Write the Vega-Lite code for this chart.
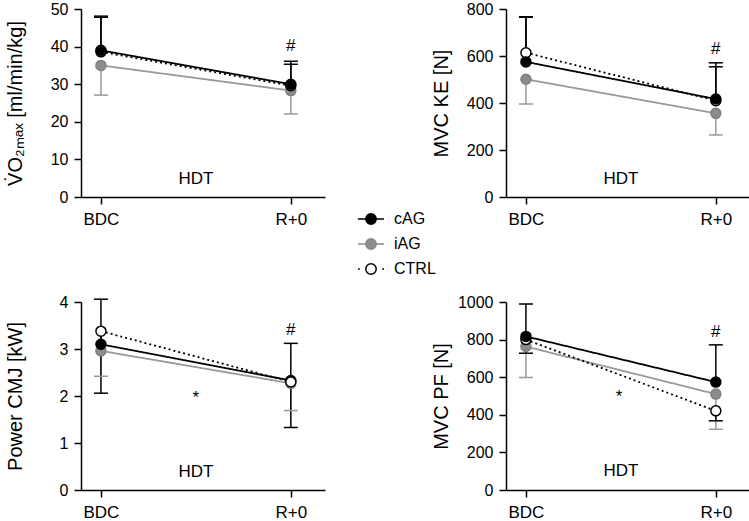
{
  "$schema": "https://vega.github.io/schema/vega-lite/v6.json",
  "padding": {"left": 4, "top": 1, "right": 0, "bottom": 0},
  "bounds": "flush",
  "columns": 2,
  "spacing": {"row": 105, "column": 181},
  "config": {
    "font": "Liberation Sans",
    "view": {"stroke": null},
    "axis": {"grid": false, "domainColor": "#000000", "tickColor": "#000000", "labelColor": "#000000", "titleColor": "#000000", "labelFontSize": 16, "titleFontSize": 20, "titleFontWeight": "normal", "domainWidth": 1.5, "tickWidth": 1.5, "tickSize": 7},
    "axisX": {"labelFontSize": 17},
    "legend": {"labelColor": "#000000"}
  },
  "resolve": {"scale": {"color": "independent", "fill": "independent", "stroke": "independent", "strokeDash": "independent"}, "legend": {"color": "independent", "fill": "independent", "stroke": "independent", "strokeDash": "independent"}},
  "datasets": {
    "pts": [
      {"panel": "VO2", "group": "iAG", "t": 0, "value": 35.0, "err": 27.1},
      {"panel": "VO2", "group": "iAG", "t": 1, "value": 28.3, "err": 22.1},
      {"panel": "VO2", "group": "CTRL", "t": 0, "value": 38.6, "err": 47.8},
      {"panel": "VO2", "group": "CTRL", "t": 1, "value": 29.6, "err": 35.3},
      {"panel": "VO2", "group": "cAG", "t": 0, "value": 39.0, "err": 48.1},
      {"panel": "VO2", "group": "cAG", "t": 1, "value": 30.0, "err": 36.1},
      {"panel": "KE", "group": "iAG", "t": 0, "value": 501, "err": 396},
      {"panel": "KE", "group": "iAG", "t": 1, "value": 356, "err": 264},
      {"panel": "KE", "group": "CTRL", "t": 0, "value": 614, "err": 765},
      {"panel": "KE", "group": "CTRL", "t": 1, "value": 410, "err": 554},
      {"panel": "KE", "group": "cAG", "t": 0, "value": 575, "err": 767},
      {"panel": "KE", "group": "cAG", "t": 1, "value": 417, "err": 571},
      {"panel": "CMJ", "group": "iAG", "t": 0, "value": 2.96, "err": 2.42},
      {"panel": "CMJ", "group": "iAG", "t": 1, "value": 2.27, "err": 1.69},
      {"panel": "CMJ", "group": "cAG", "t": 0, "value": 3.10, "err": 4.06},
      {"panel": "CMJ", "group": "cAG", "t": 1, "value": 2.33, "err": 3.12},
      {"panel": "CMJ", "group": "CTRL", "t": 0, "value": 3.38, "err": 2.06},
      {"panel": "CMJ", "group": "CTRL", "t": 1, "value": 2.30, "err": 1.33},
      {"panel": "PF", "group": "iAG", "t": 0, "value": 763, "err": 598},
      {"panel": "PF", "group": "iAG", "t": 1, "value": 510, "err": 323},
      {"panel": "PF", "group": "CTRL", "t": 0, "value": 800, "err": 728},
      {"panel": "PF", "group": "CTRL", "t": 1, "value": 421, "err": 368},
      {"panel": "PF", "group": "cAG", "t": 0, "value": 817, "err": 989},
      {"panel": "PF", "group": "cAG", "t": 1, "value": 574, "err": 772}
    ],
    "notes": [
      {"panel": "VO2", "t": 0.5, "value": 4.9, "label": "HDT"},
      {"panel": "VO2", "t": 1, "value": 40.2, "label": "#"},
      {"panel": "KE", "t": 0.5, "value": 77, "label": "HDT"},
      {"panel": "KE", "t": 1, "value": 630, "label": "#"},
      {"panel": "CMJ", "t": 0.5, "value": 0.39, "label": "HDT"},
      {"panel": "CMJ", "t": 1, "value": 3.40, "label": "#"},
      {"panel": "CMJ", "t": 0.5, "value": 1.96, "label": "*"},
      {"panel": "PF", "t": 0.5, "value": 102, "label": "HDT"},
      {"panel": "PF", "t": 1, "value": 842, "label": "#"},
      {"panel": "PF", "t": 0.49, "value": 495, "label": "*"}
    ]
  },
  "concat": [
    {
      "width": 244, "height": 188,
      "encoding": {
        "x": {"field": "t", "type": "quantitative", "scale": {"domain": [-0.105, 1.18], "nice": false, "zero": false}, "axis": {"values": [0, 1], "labelExpr": "datum.value === 0 ? 'BDC' : 'R+0'", "title": null, "labelPadding": 7, "labelOverlap": false, "labelFlush": false}},
        "y": {"field": "value", "type": "quantitative", "scale": {"domain": [0, 50], "nice": false, "zero": true}, "axis": {"values": [0, 10, 20, 30, 40, 50], "title": "V̇O₂ₘₐₓ [ml/min/kg]", "titleX": -56, "titleY": 94, "labelPadding": 6}}
      },
      "layer": [
        {"data": {"name": "pts"}, "transform": [{"filter": "datum.panel === 'VO2'"}], "mark": {"type": "line", "strokeWidth": 1.8},
         "encoding": {"color": {"field": "group", "type": "nominal", "scale": {"domain": ["iAG", "cAG", "CTRL"], "range": ["#999999", "#000000", "#000000"]}, "legend": null},
                      "strokeDash": {"field": "group", "type": "nominal", "scale": {"domain": ["CTRL", "cAG", "iAG"], "range": [[2, 3], [1, 0], [1, 0]]}, "legend": null}}},
        {"data": {"name": "pts"}, "transform": [{"filter": "datum.panel === 'VO2'"}], "mark": {"type": "rule", "strokeWidth": 1.5},
         "encoding": {"y2": {"field": "err"}, "color": {"field": "group", "type": "nominal", "legend": null}}},
        {"data": {"name": "pts"}, "transform": [{"filter": "datum.panel === 'VO2'"}], "mark": {"type": "tick", "orient": "horizontal", "size": 14, "thickness": 1.5, "opacity": 1},
         "encoding": {"y": {"field": "err", "type": "quantitative", "scale": {"domain": [0, 50], "nice": false}}, "color": {"field": "group", "type": "nominal", "legend": null}}},
        {"data": {"name": "pts"}, "transform": [{"filter": "datum.panel === 'VO2'"}], "mark": {"type": "point", "shape": "circle", "filled": true, "size": 100, "strokeWidth": 1.5, "opacity": 1},
         "encoding": {
           "fill": {"field": "group", "type": "nominal", "scale": {"domain": ["cAG", "iAG", "CTRL"], "range": ["#000000", "#8c8c8c", "#ffffff"]},
                    "legend": {"orient": "none", "legendX": 276, "legendY": 196, "title": null, "symbolSize": 676, "labelFontSize": 16, "labelOffset": 9, "rowPadding": 2, "padding": 0, "symbolStrokeWidth": 1.5, "symbolOpacity": 1,
                               "encoding": {"symbols": {
                                 "shape": {"condition": {"test": "datum.value === 'CTRL'", "value": "M-1,0H-0.86M0.86,0H1M0.4,0A0.4,0.4,0,1,1,-0.4,0A0.4,0.4,0,1,1,0.4,0Z"}, "value": "M-1,0H-0.4M0.4,0H1M0.4,0A0.4,0.4,0,1,1,-0.4,0A0.4,0.4,0,1,1,0.4,0Z"},
                                 "stroke": {"condition": {"test": "datum.value === 'iAG'", "value": "#888888"}, "value": "#000000"},
                                 "strokeWidth": {"value": 1.5}
                               }}}},
           "stroke": {"field": "group", "type": "nominal", "scale": {"domain": ["cAG", "CTRL", "iAG"], "range": ["#000000", "#000000", "#808080"]}, "legend": null}
         }},
        {"data": {"name": "notes"}, "transform": [{"filter": "datum.panel === 'VO2'"}], "mark": {"type": "text", "fontSize": 17, "color": "#000000"},
         "encoding": {"text": {"field": "label"}}}
      ]
    },
    {
      "width": 244, "height": 188,
      "encoding": {
        "x": {"field": "t", "type": "quantitative", "scale": {"domain": [-0.105, 1.18], "nice": false, "zero": false}, "axis": {"values": [0, 1], "labelExpr": "datum.value === 0 ? 'BDC' : 'R+0'", "title": null, "labelPadding": 7, "labelOverlap": false, "labelFlush": false}},
        "y": {"field": "value", "type": "quantitative", "scale": {"domain": [0, 800], "nice": false, "zero": true}, "axis": {"values": [0, 200, 400, 600, 800], "title": "MVC KE [N]", "titleX": -55, "titleY": 94, "labelPadding": 6}}
      },
      "layer": [
        {"data": {"name": "pts"}, "transform": [{"filter": "datum.panel === 'KE'"}], "mark": {"type": "line", "strokeWidth": 1.8},
         "encoding": {"color": {"field": "group", "type": "nominal", "scale": {"domain": ["iAG", "cAG", "CTRL"], "range": ["#999999", "#000000", "#000000"]}, "legend": null},
                      "strokeDash": {"field": "group", "type": "nominal", "scale": {"domain": ["CTRL", "cAG", "iAG"], "range": [[2, 3], [1, 0], [1, 0]]}, "legend": null}}},
        {"data": {"name": "pts"}, "transform": [{"filter": "datum.panel === 'KE'"}], "mark": {"type": "rule", "strokeWidth": 1.5},
         "encoding": {"y2": {"field": "err"}, "color": {"field": "group", "type": "nominal", "legend": null}}},
        {"data": {"name": "pts"}, "transform": [{"filter": "datum.panel === 'KE'"}], "mark": {"type": "tick", "orient": "horizontal", "size": 14, "thickness": 1.5, "opacity": 1},
         "encoding": {"y": {"field": "err", "type": "quantitative", "scale": {"domain": [0, 800], "nice": false}}, "color": {"field": "group", "type": "nominal", "legend": null}}},
        {"data": {"name": "pts"}, "transform": [{"filter": "datum.panel === 'KE'"}], "mark": {"type": "point", "shape": "circle", "filled": true, "size": 100, "strokeWidth": 1.5, "opacity": 1},
         "encoding": {
           "fill": {"field": "group", "type": "nominal", "scale": {"domain": ["cAG", "iAG", "CTRL"], "range": ["#000000", "#8c8c8c", "#ffffff"]}, "legend": null},
           "stroke": {"field": "group", "type": "nominal", "scale": {"domain": ["cAG", "CTRL", "iAG"], "range": ["#000000", "#000000", "#808080"]}, "legend": null}
         }},
        {"data": {"name": "notes"}, "transform": [{"filter": "datum.panel === 'KE'"}], "mark": {"type": "text", "fontSize": 17, "color": "#000000"},
         "encoding": {"text": {"field": "label"}}}
      ]
    },
    {
      "width": 244, "height": 188,
      "encoding": {
        "x": {"field": "t", "type": "quantitative", "scale": {"domain": [-0.105, 1.18], "nice": false, "zero": false}, "axis": {"values": [0, 1], "labelExpr": "datum.value === 0 ? 'BDC' : 'R+0'", "title": null, "labelPadding": 7, "labelOverlap": false, "labelFlush": false}},
        "y": {"field": "value", "type": "quantitative", "scale": {"domain": [0, 4], "nice": false, "zero": true}, "axis": {"values": [0, 1, 2, 3, 4], "title": "Power CMJ [kW]", "titleX": -56, "titleY": 94, "labelPadding": 6}}
      },
      "layer": [
        {"data": {"name": "pts"}, "transform": [{"filter": "datum.panel === 'CMJ'"}], "mark": {"type": "line", "strokeWidth": 1.8},
         "encoding": {"color": {"field": "group", "type": "nominal", "scale": {"domain": ["iAG", "cAG", "CTRL"], "range": ["#999999", "#000000", "#000000"]}, "legend": null},
                      "strokeDash": {"field": "group", "type": "nominal", "scale": {"domain": ["CTRL", "cAG", "iAG"], "range": [[2, 3], [1, 0], [1, 0]]}, "legend": null}}},
        {"data": {"name": "pts"}, "transform": [{"filter": "datum.panel === 'CMJ'"}], "mark": {"type": "rule", "strokeWidth": 1.5},
         "encoding": {"y2": {"field": "err"}, "color": {"field": "group", "type": "nominal", "legend": null}}},
        {"data": {"name": "pts"}, "transform": [{"filter": "datum.panel === 'CMJ'"}], "mark": {"type": "tick", "orient": "horizontal", "size": 14, "thickness": 1.5, "opacity": 1},
         "encoding": {"y": {"field": "err", "type": "quantitative", "scale": {"domain": [0, 4], "nice": false}}, "color": {"field": "group", "type": "nominal", "legend": null}}},
        {"data": {"name": "pts"}, "transform": [{"filter": "datum.panel === 'CMJ'"}], "mark": {"type": "point", "shape": "circle", "filled": true, "size": 100, "strokeWidth": 1.5, "opacity": 1},
         "encoding": {
           "fill": {"field": "group", "type": "nominal", "scale": {"domain": ["cAG", "iAG", "CTRL"], "range": ["#000000", "#8c8c8c", "#ffffff"]}, "legend": null},
           "stroke": {"field": "group", "type": "nominal", "scale": {"domain": ["cAG", "CTRL", "iAG"], "range": ["#000000", "#000000", "#808080"]}, "legend": null}
         }},
        {"data": {"name": "notes"}, "transform": [{"filter": "datum.panel === 'CMJ'"}], "mark": {"type": "text", "fontSize": 17, "color": "#000000"},
         "encoding": {"text": {"field": "label"}}}
      ]
    },
    {
      "width": 244, "height": 188,
      "encoding": {
        "x": {"field": "t", "type": "quantitative", "scale": {"domain": [-0.105, 1.18], "nice": false, "zero": false}, "axis": {"values": [0, 1], "labelExpr": "datum.value === 0 ? 'BDC' : 'R+0'", "title": null, "labelPadding": 7, "labelOverlap": false, "labelFlush": false}},
        "y": {"field": "value", "type": "quantitative", "scale": {"domain": [0, 1000], "nice": false, "zero": true}, "axis": {"values": [0, 200, 400, 600, 800, 1000], "format": "d", "title": "MVC PF [N]", "titleX": -55, "titleY": 94, "labelPadding": 6}}
      },
      "layer": [
        {"data": {"name": "pts"}, "transform": [{"filter": "datum.panel === 'PF'"}], "mark": {"type": "line", "strokeWidth": 1.8},
         "encoding": {"color": {"field": "group", "type": "nominal", "scale": {"domain": ["iAG", "cAG", "CTRL"], "range": ["#999999", "#000000", "#000000"]}, "legend": null},
                      "strokeDash": {"field": "group", "type": "nominal", "scale": {"domain": ["CTRL", "cAG", "iAG"], "range": [[2, 3], [1, 0], [1, 0]]}, "legend": null}}},
        {"data": {"name": "pts"}, "transform": [{"filter": "datum.panel === 'PF'"}], "mark": {"type": "rule", "strokeWidth": 1.5},
         "encoding": {"y2": {"field": "err"}, "color": {"field": "group", "type": "nominal", "legend": null}}},
        {"data": {"name": "pts"}, "transform": [{"filter": "datum.panel === 'PF'"}], "mark": {"type": "tick", "orient": "horizontal", "size": 14, "thickness": 1.5, "opacity": 1},
         "encoding": {"y": {"field": "err", "type": "quantitative", "scale": {"domain": [0, 1000], "nice": false}}, "color": {"field": "group", "type": "nominal", "legend": null}}},
        {"data": {"name": "pts"}, "transform": [{"filter": "datum.panel === 'PF'"}], "mark": {"type": "point", "shape": "circle", "filled": true, "size": 100, "strokeWidth": 1.5, "opacity": 1},
         "encoding": {
           "fill": {"field": "group", "type": "nominal", "scale": {"domain": ["cAG", "iAG", "CTRL"], "range": ["#000000", "#8c8c8c", "#ffffff"]}, "legend": null},
           "stroke": {"field": "group", "type": "nominal", "scale": {"domain": ["cAG", "CTRL", "iAG"], "range": ["#000000", "#000000", "#808080"]}, "legend": null}
         }},
        {"data": {"name": "notes"}, "transform": [{"filter": "datum.panel === 'PF'"}], "mark": {"type": "text", "fontSize": 17, "color": "#000000"},
         "encoding": {"text": {"field": "label"}}}
      ]
    }
  ]
}
